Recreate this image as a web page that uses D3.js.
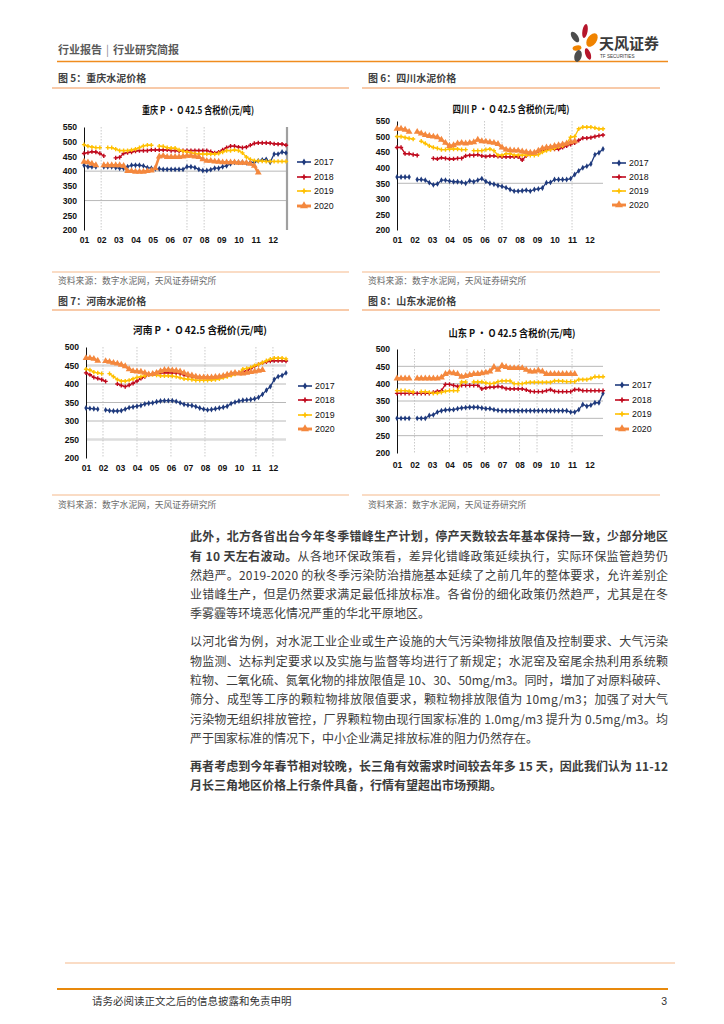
<!DOCTYPE html>
<html><head><meta charset="utf-8">
<script src="https://cdn.jsdelivr.net/npm/d3@7"></script>
<style>body{margin:0;background:#fff} svg{display:block}</style>
</head><body>
<svg id="page" width="724" height="1024"></svg>
<script>
// ---------- DATA ----------
const months = ["01","02","03","04","05","06","07","08","09","10","11","12"];
const years = ["2017","2018","2019","2020"];
const ticks550 = [200,250,300,350,400,450,500,550];
const ticks500 = [200,250,300,350,400,450,500];

// 重庆 (weekly)
const cq2017 = [420,415,415,415,null,415,415,415,412,410, 410,415,420,420,420,418,412,410,408,408, 406,406,406,406,406,406,415,415,412,406, 402,402,405,410,410,415,418,425,430,430, 430,428,430,430,435,438,440,430,458,458, 465,462];
const cq2018 = [460,463,466,465,460,452,null,null,445,447, 460,463,465,468,470,470,470,472,472,472, 472,472,470,470,468,470,470,470,470,470, 470,470,466,462,465,472,480,485,485,482, 480,482,488,494,496,496,496,495,493,492, 492,488];
const cq2019 = [490,485,482,480,480,null,480,480,475,470, 470,470,472,475,480,486,488,488,null,485, 484,480,478,478,472,468,465,462,460,458, 458,458,458,458,460,465,470,470,472,470, 462,448,440,436,435,434,433,433,433,433, 433,433];
const cq2020 = [432,430,425,420,null,420,420,420,420,420, 418,400,400,398,398,398,400,402,410,450, 452,448,448,448,448,450,452,452,450,448, 440,435,435,433,432,430,430,430,430,428, 428,428,425,418,395,null,null,null,null,null, null,null];

// 四川
const sc2017 = [370,370,370,370,null,362,362,360,352,345, 348,360,360,357,355,355,353,350,358,355, 360,365,356,350,347,343,340,336,330,325, 325,326,328,325,330,332,335,352,353,362, 362,362,362,365,378,390,400,405,412,442, 448,460];
const sc2018 = [465,465,445,445,442,440,null,null,null,430, 428,432,430,428,428,430,430,438,440,440, 442,438,436,438,438,436,435,435,435,435, 435,425,438,445,448,452,455,458,460,460, 460,465,470,475,480,488,495,495,497,500, 503,505];
const sc2019 = [500,500,497,494,492,null,485,478,470,465, 462,458,458,460,460,460,458,458,null,455, 455,455,458,460,455,440,440,445,445,440, 440,440,440,440,440,442,450,455,458,462, 468,470,478,498,500,525,530,530,530,528, 525,525];
const sc2020 = [525,525,522,515,null,515,510,505,502,500, 498,490,480,470,472,478,480,478,480,482, 490,485,484,482,480,476,465,458,456,455, 455,452,450,448,448,455,462,465,466,470, 472,475,478,482,485,null,null,null,null,null, null,null];

// 河南
const hn2017 = [335,334,333,332,null,330,328,327,327,328, 332,336,338,340,342,346,348,349,352,354, 355,355,355,353,349,345,343,342,339,335, 332,330,331,333,335,337,340,347,351,354, 356,357,358,360,364,372,383,393,412,420, 423,430];
const hn2018 = [430,425,418,415,412,407,null,null,400,396, 393,397,402,408,415,420,425,428,430,430, 430,430,430,430,428,425,422,420,419,418, 418,415,415,416,418,420,422,425,428,430, 432,436,442,448,453,457,460,462,463,463, 463,462];
const hn2019 = [440,438,432,430,428,null,428,420,412,408, 408,410,414,418,420,422,425,425,424,422, 422,422,421,420,417,414,413,412,410,410, 410,410,411,412,414,417,420,423,427,430, 440,442,445,450,453,458,463,467,470,470, 470,468];
const hn2020 = [470,470,468,463,null,462,460,457,455,452, 448,440,435,434,433,430,426,427,430,435, 438,438,437,436,434,430,425,423,420,418, 418,418,418,419,420,422,425,428,430,428, 428,430,432,434,436,438,null,null,null,null, null,null];

// 山东
const sd2017 = [300,300,300,300,null,300,300,300,308,310, 318,322,324,325,325,328,330,331,332,332, 332,330,328,328,325,323,322,322,322,322, 322,322,322,322,322,322,322,322,322,322, 322,322,322,318,318,325,340,335,338,345, 345,372];
const sd2018 = [372,372,372,372,372,372,372,372,372,375, 378,380,398,398,395,392,395,395,395,395, 395,385,388,390,390,392,390,386,385,385, 385,385,382,378,377,377,377,380,383,378, 377,377,377,377,383,383,380,380,380,380, 380,380];
const sd2019 = [380,380,380,378,376,null,377,377,375,372, 373,375,378,380,380,380,405,405,null,405, 405,405,402,400,401,406,408,408,408,400, 400,400,403,404,404,404,404,404,404,408, 408,407,406,406,406,412,412,412,415,420, 420,420];
const sd2020 = [415,415,415,415,null,415,415,415,415,415, 415,418,428,432,430,428,420,422,425,428, 428,430,432,435,448,440,452,448,445,445, 445,445,440,435,435,438,435,428,428,428, 428,428,428,428,428,null,null,null,null,null, null,null];

// ---------- PAGE ----------
const svg = d3.select("#page");
const CJK = "'Noto Sans CJK SC','Noto Sans',sans-serif";
const LAT = "'Liberation Sans',Arial,sans-serif";

// header
const hd = svg.append("text").attr("x",58).attr("y",54).attr("font-family",CJK).attr("font-size",11)
  .attr("font-weight",700).attr("fill","#5a5a5a");
hd.append("tspan").text("行业报告");
hd.append("tspan").attr("dx",4).attr("font-weight",400).attr("fill","#888").text("|");
hd.append("tspan").attr("dx",4).text("行业研究简报");
svg.append("line").attr("x1",57).attr("x2",668).attr("y1",61.5).attr("y2",61.5)
  .attr("stroke","#F08C1E").attr("stroke-width",1.6);
// logo
const logo = svg.append("g");
[[585,31,2.6,7,10,"#B5152B"],[592,40,4.6,7.5,35,"#F08300"],[575,37,3,6,-35,"#4D4D4D"],
 [577,48,4.5,2.6,-10,"#F08300"],[578,56,3.6,6,15,"#4D4D4D"],[588,54,2.6,6,-20,"#B5152B"]]
 .forEach(p=>logo.append("ellipse").attr("cx",p[0]).attr("cy",p[1]).attr("rx",p[2]).attr("ry",p[3])
   .attr("transform",`rotate(${p[4]},${p[0]},${p[1]})`).attr("fill",p[5]));
svg.append("text").attr("x",599).attr("y",49).attr("font-family",CJK).attr("font-size",15)
  .attr("font-weight",700).attr("fill","#3a3a3a").text("天风证券");
svg.append("text").attr("x",600).attr("y",57.5).attr("font-family",LAT).attr("font-size",4.6)
  .attr("fill","#3a3a3a").text("TF SECURITIES");

// ---------- CHARTS ----------
const styles = [
  {color:"#1F3A7D", w:1.3, sym:d3.symbolDiamond, size:10},
  {color:"#C00A1E", w:1.3, sym:d3.symbolCross, size:10},
  {color:"#FFC000", w:1.3, sym:d3.symbolCross, size:10},
  {color:"#F4883E", w:2.6, sym:d3.symbolTriangle, size:20}
];

function drawChart(c){
  const g = svg.append("g");
  const x = d3.scaleLinear().domain([0,51]).range([c.x0,c.x1]);
  const y = d3.scaleLinear().domain([200,c.yMax]).range([c.yB,c.yT]);
  const mpos = i => i*52/12;
  // caption + rules
  g.append("text").attr("x",c.capX).attr("y",c.capY).attr("dy","0.35em").attr("font-family",CJK)
    .attr("font-size",10).attr("font-weight",700).attr("fill","#404040").text(c.caption);
  g.append("line").attr("x1",c.ruleX1).attr("x2",c.ruleX2).attr("y1",c.capLine).attr("y2",c.capLine)
    .attr("stroke","#F6B98C").attr("stroke-width",1.5);
  g.append("line").attr("x1",c.ruleX1).attr("x2",c.ruleX2).attr("y1",c.srcLine).attr("y2",c.srcLine)
    .attr("stroke","#F6B98C").attr("stroke-width",1.2);
  g.append("text").attr("x",c.capX).attr("y",c.srcY).attr("dy","0.35em").attr("font-family",CJK)
    .attr("font-size",8.8).attr("fill","#6a6a6a").text("资料来源：数字水泥网，天风证券研究所");
  // title
  g.append("text").attr("x",c.titleX).attr("y",c.titleY).attr("dy","0.35em").attr("text-anchor","middle")
    .attr("font-family",CJK).attr("font-size",10).attr("font-weight",700).attr("fill","#111")
    .attr("textLength",c.titleW).attr("lengthAdjust","spacingAndGlyphs").text(c.title);
  // grid
  c.grid.forEach(v=>g.append("line").attr("x1",c.x0).attr("x2",c.x1).attr("y1",y(v)).attr("y2",y(v))
    .attr("stroke",c.gridColor||"#b8b8b8").attr("stroke-width",1));
  (c.gridThick||[]).forEach(v=>g.append("line").attr("x1",c.x0).attr("x2",c.x1).attr("y1",y(v)).attr("y2",y(v))
    .attr("stroke","#dcdcdc").attr("stroke-width",2.5));
  c.vlines.forEach(m=>g.append("line").attr("x1",x(mpos(m-1))).attr("x2",x(mpos(m-1)))
    .attr("y1",c.yT).attr("y2",c.yB).attr("stroke","#bdbdbd").attr("stroke-width",0.8)
    .attr("stroke-dasharray","1.5,1.5"));
  if(c.rightBar) g.append("line").attr("x1",c.x1+1).attr("x2",c.x1+1).attr("y1",c.yT).attr("y2",c.yB)
    .attr("stroke","#a0a0a0").attr("stroke-width",2.2);
  // y axis
  const ya = g.append("g").attr("transform",`translate(${c.x0},0)`)
    .call(d3.axisLeft(y).tickValues(c.ticks).tickSize(0).tickPadding(7));
  ya.select(".domain").attr("stroke","#111").attr("stroke-width",1);
  ya.selectAll("text").attr("font-family",LAT).attr("font-size",8.6).attr("font-weight",700).attr("fill","#111");
  // x axis labels
  const xa = g.append("g").attr("transform",`translate(0,${c.xLabY})`)
    .call(d3.axisBottom(x).tickValues(months.map((m,i)=>mpos(i))).tickFormat((d,i)=>months[i]).tickSize(0));
  xa.select(".domain").remove();
  xa.selectAll("text").attr("y",0).attr("dy","0.35em").attr("font-family",LAT).attr("font-size",8.6)
    .attr("font-weight",700).attr("fill","#111");
  // series
  c.data.forEach((arr,k)=>{
    const st = styles[k];
    const line = d3.line().defined(d=>d!=null).x((d,i)=>x(i)).y(d=>y(d));
    g.append("path").attr("d",line(arr)).attr("fill","none").attr("stroke",st.color)
      .attr("stroke-width",st.w).attr("stroke-linejoin","round");
    const sym = d3.symbol().type(st.sym).size(st.size);
    g.append("g").selectAll("path").data(arr.map((v,i)=>[i,v]).filter(d=>d[1]!=null)).join("path")
      .attr("d",sym).attr("transform",d=>`translate(${x(d[0])},${y(d[1])})`).attr("fill",st.color);
    // legend
    const ly = c.legY[k];
    g.append("line").attr("x1",c.legX).attr("x2",c.legX+14).attr("y1",ly).attr("y2",ly)
      .attr("stroke",st.color).attr("stroke-width",st.w+0.3);
    g.append("path").attr("d",d3.symbol().type(st.sym).size(st.size*1.4))
      .attr("transform",`translate(${c.legX+7},${ly})`).attr("fill",st.color);
    g.append("text").attr("x",c.legX+17).attr("y",ly).attr("dy","0.35em").attr("font-family",LAT)
      .attr("font-size",8.8).attr("fill","#111").text(years[k]);
  });
}

drawChart({caption:"图 5：重庆水泥价格", capX:58, capY:78, capLine:88, srcLine:272, srcY:281, ruleX1:52, ruleX2:349,
  title:"重庆 P • O 42.5 含税价(元/吨)", titleX:198, titleY:110, titleW:112,
  x0:84, x1:286, yT:127, yB:230, yMax:550, ticks:ticks550, xLabY:240,
  grid:[400,300], vlines:[2,7,8], rightBar:true,
  legX:297, legY:[162,177,191,206], data:[cq2017,cq2018,cq2019,cq2020]});
drawChart({caption:"图 6：四川水泥价格", capX:368, capY:78, capLine:88, srcLine:272, srcY:281, ruleX1:362, ruleX2:660,
  title:"四川  P • O 42.5 含税价(元/吨)", titleX:511, titleY:109, titleW:117,
  x0:397, x1:603, yT:121, yB:230, yMax:550, ticks:ticks550, xLabY:240,
  grid:[350], vlines:[4,6,7,11],
  legX:612, legY:[163,177,191,205], data:[sc2017,sc2018,sc2019,sc2020]});
drawChart({caption:"图 7：河南水泥价格", capX:58, capY:301, capLine:310, srcLine:495, srcY:505, ruleX1:52, ruleX2:349,
  title:"河南  P • O 42.5 含税价(元/吨)", titleX:200, titleY:330, titleW:134,
  x0:86, x1:286, yT:347, yB:458, yMax:500, ticks:ticks500, xLabY:468,
  grid:[400,350,300], gridThick:[450,250], vlines:[2,4,6,8,11,12],
  legX:298, legY:[386,400,415,429], data:[hn2017,hn2018,hn2019,hn2020]});
drawChart({caption:"图 8：山东水泥价格", capX:368, capY:301, capLine:310, srcLine:495, srcY:505, ruleX1:362, ruleX2:660,
  title:"山东  P • O 42.5 含税价(元/吨)", titleX:512, titleY:333, titleW:127,
  x0:397, x1:603, yT:349, yB:453, yMax:500, ticks:ticks500, xLabY:465,
  grid:[450,400,350,300,250], vlines:[2,4,5,6,8,9,11],
  legX:615, legY:[385,400,414,429], data:[sd2017,sd2018,sd2019,sd2020]});

// ---------- BODY TEXT ----------
const paras = [
  [[["此外，北方各省出台今年冬季错峰生产计划，停产天数较去年基本保持一致，少部分地区",1]],
   [["有 10 天左右波动。",1],["从各地环保政策看，差异化错峰政策延续执行，实际环保监管趋势仍",0]],
   [["然趋严。2019-2020 的秋冬季污染防治措施基本延续了之前几年的整体要求，允许差别企",0]],
   [["业错峰生产，但是仍然要求满足最低排放标准。各省份的细化政策仍然趋严，尤其是在冬",0]],
   [["季雾霾等环境恶化情况严重的华北平原地区。",0]]],
  [[["以河北省为例，对水泥工业企业或生产设施的大气污染物排放限值及控制要求、大气污染",0]],
   [["物监测、达标判定要求以及实施与监督等均进行了新规定；水泥窑及窑尾余热利用系统颗",0]],
   [["粒物、二氧化硫、氮氧化物的排放限值是 10、30、50mg/m3。同时，增加了对原料破碎、",0]],
   [["筛分、成型等工序的颗粒物排放限值要求，颗粒物排放限值为 10mg/m3；加强了对大气",0]],
   [["污染物无组织排放管控，厂界颗粒物由现行国家标准的 1.0mg/m3 提升为 0.5mg/m3。均",0]],
   [["严于国家标准的情况下，中小企业满足排放标准的阻力仍然存在。",0]]],
  [[["再者考虑到今年春节相对较晚，长三角有效需求时间较去年多 15 天，因此我们认为 11-12",1]],
   [["月长三角地区价格上行条件具备，行情有望超出市场预期。",1]]]
];
let ty = 537;
paras.forEach(p=>{
  p.forEach((ln,li)=>{
    const t = svg.append("text").attr("x",190).attr("y",ty).attr("dy","0.35em")
      .attr("font-family",CJK).attr("font-size",12).attr("fill","#3c3c3c");
    if(li < p.length-1) t.attr("textLength",478).attr("lengthAdjust","spacing");
    ln.forEach(s=>t.append("tspan").attr("font-weight",s[1]?700:400).text(s[0]));
    ty += 19.3;
  });
  ty += 8.7;
});

// ---------- FOOTER ----------
svg.append("line").attr("x1",65).attr("x2",675).attr("y1",963).attr("y2",963).attr("stroke","#F6B98C").attr("stroke-width",1.2);
svg.append("line").attr("x1",57).attr("x2",668).attr("y1",989).attr("y2",989).attr("stroke","#E8890C").attr("stroke-width",2);
svg.append("text").attr("x",92).attr("y",1001).attr("dy","0.35em").attr("font-family",CJK).attr("font-size",10.5)
  .attr("fill","#333").text("请务必阅读正文之后的信息披露和免责申明");
svg.append("text").attr("x",667).attr("y",1001).attr("dy","0.35em").attr("text-anchor","end").attr("font-family",LAT)
  .attr("font-size",10.5).attr("fill","#333").text("3");
</script>
</body></html>
